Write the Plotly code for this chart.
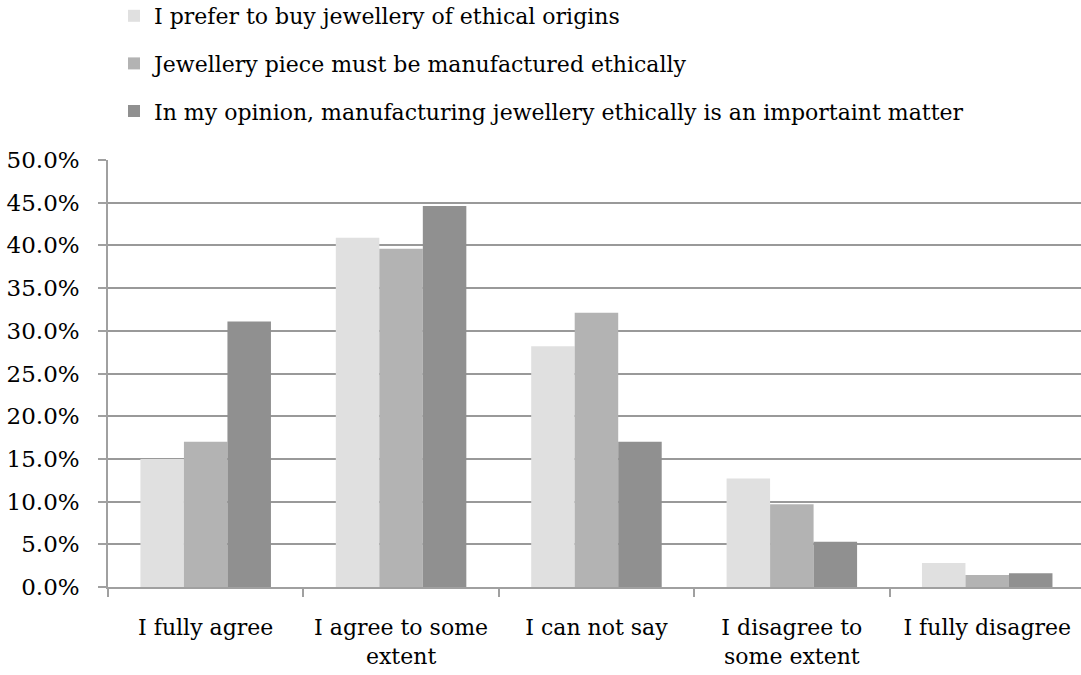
import plotly.graph_objects as go

categories = [
    "I fully agree",
    "I agree to some<br>extent",
    "I can not say",
    "I disagree to<br>some extent",
    "I fully disagree",
]
series_names = [
    "I prefer to buy jewellery of ethical origins",
    "Jewellery piece must be manufactured ethically",
    "In my opinion, manufacturing jewellery ethically is an importaint matter",
]
ethical_origins = [0.150, 0.409, 0.282, 0.127, 0.028]
manufactured_ethically = [0.170, 0.396, 0.321, 0.097, 0.014]
important_matter = [0.311, 0.446, 0.170, 0.053, 0.016]
series_values = [ethical_origins, manufactured_ethically, important_matter]
series_colors = ["#E0E0E0", "#B3B3B3", "#909090"]

FONT = "DejaVu Serif"

fig = go.Figure()
for i, (name, vals, col) in enumerate(zip(series_names, series_values, series_colors)):
    fig.add_trace(go.Bar(
        x=categories,
        y=vals,
        name=name,
        marker=dict(color=col, line=dict(width=0)),
        legendgroup=f"g{i}",
        hoverinfo="x+y+name",
    ))

fig.update_layout(
    width=1081,
    height=675,
    margin=dict(l=108, r=0, t=160, b=88, pad=0, autoexpand=False),
    paper_bgcolor="white",
    plot_bgcolor="white",
    barmode="group",
    bargap=0.332,
    bargroupgap=0,
    font=dict(family=FONT, size=22, color="#000000"),
    showlegend=True,
    legend=dict(
        x=(114 - 108) / 973,
        y=1 + 28 / 427,
        xanchor="left",
        yanchor="bottom",
        orientation="v",
        traceorder="grouped",
        tracegroupgap=16,
        bgcolor="rgba(0,0,0,0)",
        font=dict(family=FONT, size=22, color="#000000"),
    ),
    xaxis=dict(
        type="category",
        range=[-0.5, 4.48],
        showgrid=False,
        showline=True,
        linecolor="#a0a0a0",
        linewidth=1.5,
        ticks="outside",
        tickson="boundaries",
        ticklen=8,
        tickwidth=1.5,
        tickcolor="#a0a0a0",
        ticklabelstandoff=20,
        tickfont=dict(family=FONT, size=22, color="#000000"),
        fixedrange=True,
    ),
    yaxis=dict(
        range=[0, 0.5],
        dtick=0.05,
        tickformat=".1%",
        showgrid=True,
        gridcolor="#999999",
        gridwidth=1.6,
        zeroline=False,
        showline=True,
        linecolor="#a0a0a0",
        linewidth=1.5,
        ticks="outside",
        ticklen=8,
        tickwidth=1.5,
        tickcolor="#a0a0a0",
        ticklabelstandoff=14,
        tickfont=dict(family=FONT, size=23, color="#000000"),
        fixedrange=True,
    ),
)

fig.write_html("out.html", config={"displayModeBar": False})
